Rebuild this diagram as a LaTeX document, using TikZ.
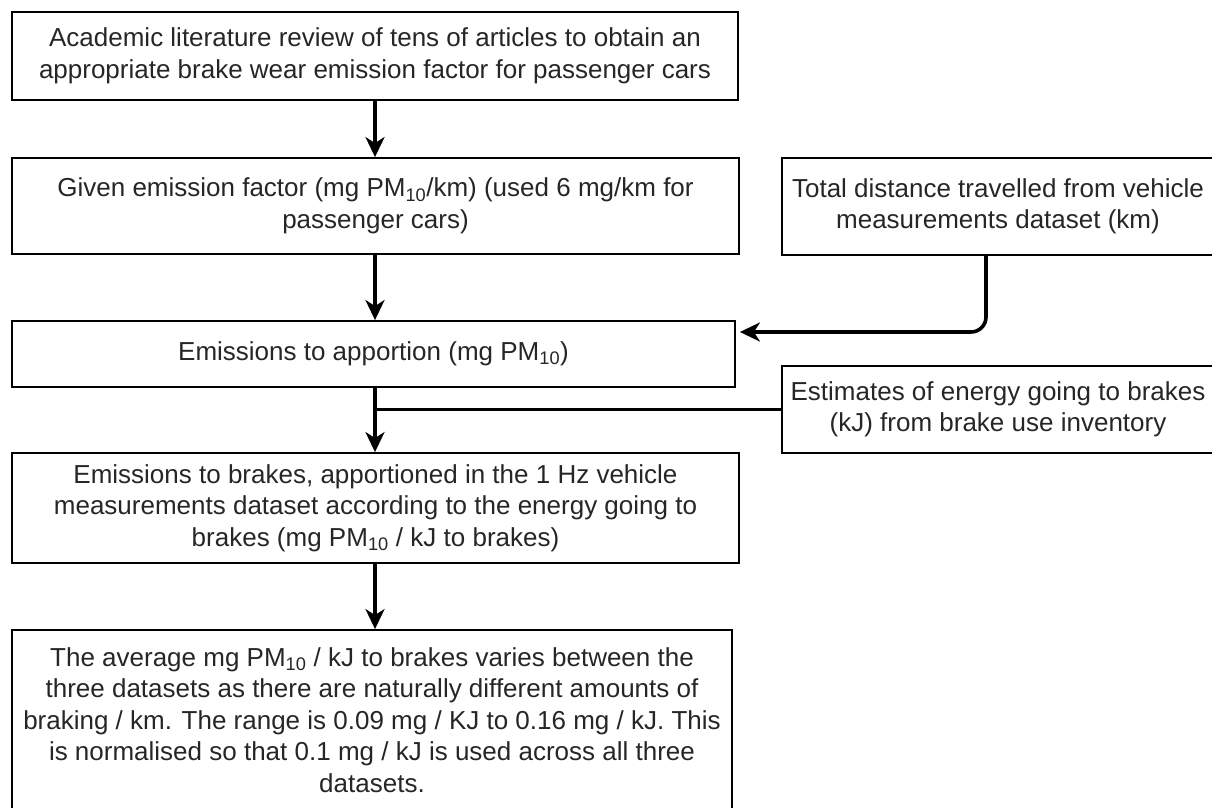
\documentclass[tikz,border=0pt]{standalone}
\usepackage{fontspec}
\setmainfont{Liberation Sans}
\usetikzlibrary{arrows.meta,calc}
\begin{document}
\begin{tikzpicture}[x=1pt,y=-1pt,
  box/.style={draw=black, line width=1.8pt, align=center, inner sep=0pt,
    text=black!85, font=\fontsize{26}{31.5}\selectfont},
  arr/.style={line width=3.6pt, -{Stealth[length=20pt,width=19pt,inset=6pt]}},
  joinline/.style={line width=3.6pt}]
\useasboundingbox (0,0) rectangle (1212,807);
\clip (0,0) rectangle (1212,807);
\node[box, minimum width=726pt, minimum height=88pt] (A) at (375,56)
  {Academic literature review of tens of articles to obtain an\\appropriate brake wear emission factor for passenger cars};
\node[box, minimum width=727pt, minimum height=96pt] (B) at (375.5,206)
  {Given emission factor (mg PM\textsubscript{10}/km) (used 6 mg/km for\\passenger cars)};
\node[box, minimum width=432pt, minimum height=97pt] (C) at (998,206.5)
  {Total distance travelled from vehicle\\measurements dataset (km)};
\node[box, minimum width=723pt, minimum height=66pt] (D) at (373.5,354)
  {Emissions to apportion (mg PM\textsubscript{10})};
\node[box, minimum width=432pt, minimum height=87pt] (Est) at (998,409.5)
  {Estimates of energy going to brakes\\(kJ) from brake use inventory};
\node[box, minimum width=727pt, minimum height=110pt] (E) at (375.5,508)
  {Emissions to brakes, apportioned in the 1 Hz vehicle\\measurements dataset according to the energy going to\\brakes (mg PM\textsubscript{10} / kJ to brakes)};
\node[box, minimum width=720pt, minimum height=180pt] (F) at (372,720)
  {The average mg PM\textsubscript{10} / kJ to brakes varies between the\\three datasets as there are naturally different amounts of\\braking / km. The range is 0.09 mg / KJ to 0.16 mg / kJ. This\\is normalised so that 0.1 mg / kJ is used across all three\\datasets.};
\coordinate (ax) at (375,0);
\coordinate (cx) at (986,332);
\draw[arr] (A.south -| ax) -- (B.north -| ax);
\draw[arr] (B.south -| ax) -- (D.north -| ax);
\draw[arr] (D.south -| ax) -- (E.north -| ax);
\draw[arr] (E.south -| ax) -- (F.north -| ax);
\draw[arr, rounded corners=15pt, shorten >=4pt] (C.south -| cx) |- (D.east |- cx);
\draw[joinline] (Est.west) -- (Est.west -| ax);
\end{tikzpicture}
\end{document}
